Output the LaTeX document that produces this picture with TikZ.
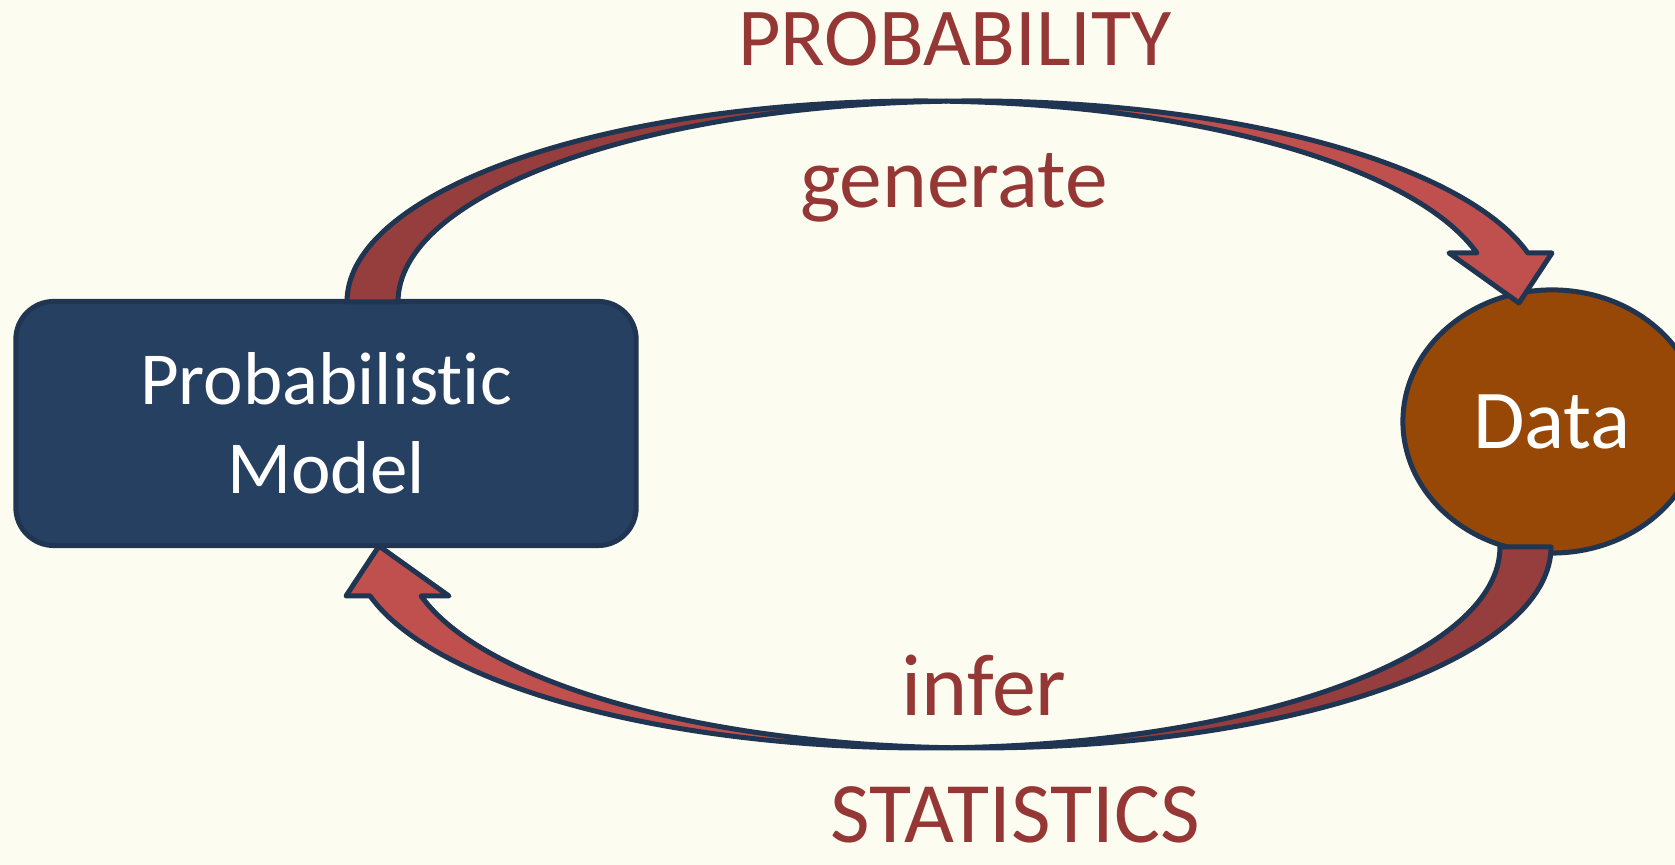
\documentclass[tikz,border=0pt]{standalone}
\usepackage{fontspec}
\setmainfont{Carlito}[Ligatures=NoCommon]
\usetikzlibrary{shapes.geometric}
\definecolor{paper}{HTML}{FDFCF0}
\definecolor{navyline}{HTML}{1F3552}
\definecolor{modelblue}{HTML}{264061}
\definecolor{databrown}{HTML}{974806}
\definecolor{arrowfront}{HTML}{C0504D}
\definecolor{arrowback}{HTML}{963E3D}
\definecolor{labelred}{HTML}{953735}
\tikzset{%
  % Specifications for style of nodes:
	base/.style = {draw=navyline, line width=0.05cm, align=center, text=white,
	               inner sep=0pt},
	modelbox/.style = {base, rectangle, rounded corners=0.38cm, fill=modelblue,
	                   minimum width=6.2cm, minimum height=2.44cm,
	                   font=\fontsize{21.3}{25.3}\selectfont},
	databall/.style = {base, ellipse, fill=databrown,
	                   minimum width=2.98cm, minimum height=2.63cm,
	                   font=\fontsize{23.8}{26}\selectfont},
	word/.style = {anchor=base, inner sep=0pt, text=labelred,
	               font=\fontsize{24.3}{26}\selectfont},
  % the two faces of a curved block arrow
	swing/.style = {x radius=573.6, y radius=201},
	faceback/.style = {draw=navyline, line width=0.05cm, line join=round, fill=arrowback},
	facefront/.style = {faceback, fill=arrowfront}
}

\begin{document}
\begin{tikzpicture}[x=0.01cm, y=0.01cm]
  % cream page
  \fill [paper] (0,0) rectangle (1675,865);
  \useasboundingbox (0,0) rectangle (1675,865);
  \clip (0,0) rectangle (1675,865);

  % Specification of nodes (position, etc.)
  \node (model) [modelbox] at (326,441.5) {Probabilistic\\Model};
  \node (data) [databall] at (1552,443.5) {Data};

  \node (prob) [word, font=\fontsize{23.4}{26}\selectfont] at (955,799) {PROBABILITY};
  \node (gen) [word] at (954,657) {generate};
  \node (inf) [word, font=\fontsize{25}{26}\selectfont] at (984,149) {infer};
  \node (stat) [word, font=\fontsize{24.5}{26}\selectfont] at (1015,22) {STATISTICS};

  % centre of the half turn that maps one arrow on the other
  \coordinate (turn) at (949,440.5);

  % generate arrow, model -> data
  \draw [faceback] (347,563) arc[swing, start angle=180, end angle=87.46]
        arc[swing, start angle=92.56, end angle=180] -- cycle;
  \draw [facefront] (946,763.8) arc[swing, start angle=92.56, end angle=14.11]
        -- (1552,612) -- (1519,562) -- (1449,612) -- (1476.9,612)
        arc[swing, start angle=14.11, end angle=87.46] -- cycle;

  % infer arrow, data -> model (same arrow, turned round)
  \begin{scope}[rotate around={180:(turn)}]
  \draw [faceback] (347,563) arc[swing, start angle=180, end angle=87.46]
        arc[swing, start angle=92.56, end angle=180] -- cycle;
  \draw [facefront] (946,763.8) arc[swing, start angle=92.56, end angle=14.11]
        -- (1552,612) -- (1519,562) -- (1449,612) -- (1476.9,612)
        arc[swing, start angle=14.11, end angle=87.46] -- cycle;
  \end{scope}
\end{tikzpicture}
\end{document}
